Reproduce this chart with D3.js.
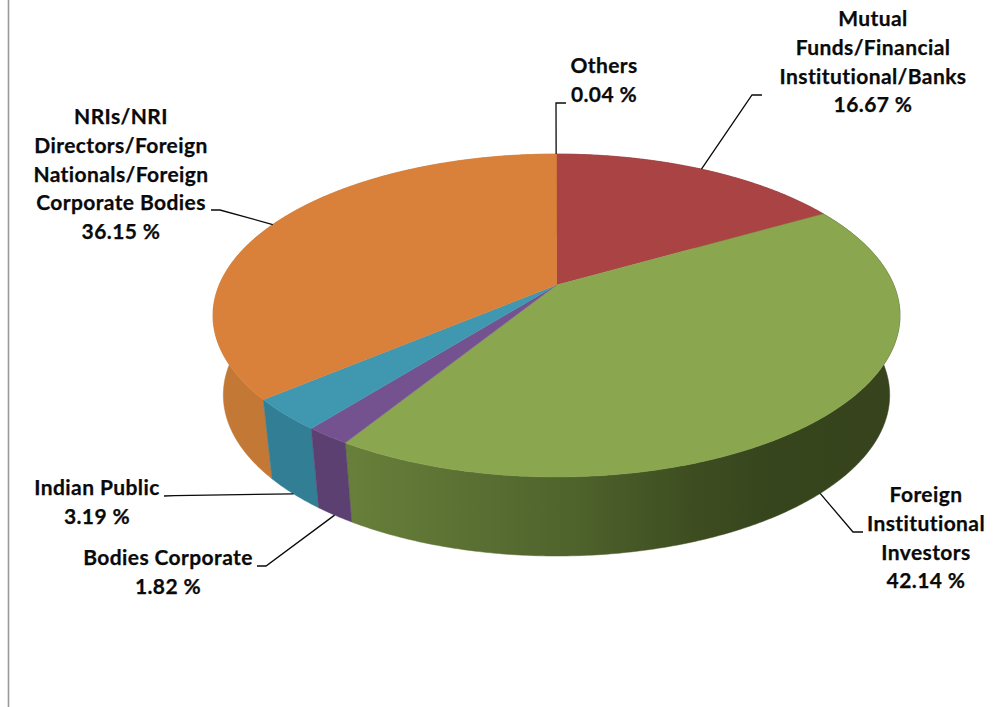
<!DOCTYPE html>
<html>
<head>
<meta charset="utf-8">
<script src="https://cdnjs.cloudflare.com/ajax/libs/d3/7.8.5/d3.min.js"></script>
<style>
html,body{margin:0;padding:0;background:#fff}
svg{display:block}
text{font-family:Lato,"Open Sans",sans-serif;font-weight:700;fill:#0a0a0a;stroke:#0a0a0a;stroke-width:0.25px;letter-spacing:0.4px}
</style>
</head>
<body>
<svg id="chart" width="1008" height="707"></svg>
<script>
const categories = ["Mutual Funds/Financial Institutional/Banks","Foreign Institutional Investors","Bodies Corporate","Indian Public","NRIs/NRI Directors/Foreign Nationals/Foreign Corporate Bodies","Others"];
const values = [16.67,42.14,1.82,3.19,36.15,0.04];
const valueLabels = ["16.67 %","42.14 %","1.82 %","3.19 %","36.15 %","0.04 %"];
const labelLines = [
  ["Mutual","Funds/Financial","Institutional/Banks"],
  ["Foreign","Institutional","Investors"],
  ["Bodies Corporate"],
  ["Indian Public"],
  ["NRIs/NRI","Directors/Foreign","Nationals/Foreign","Corporate Bodies"],
  ["Others"]
];
const topColors = ["#A94344","#8AA64E","#74528F","#4097B0","#D9813B","#D9813B"];
const sideColors = ["#7E3132","url(#greenSide)","#5C4072","#327F95","#C47835","#C47835"];

// layout of the labels (centre x, first baseline y) and leader lines
const labelPos = [[873,26],[926,502],[168,565],[97,495],[121,124],[604,73]];
const leaderRest = [
  [[752,95],[762,95]],
  [[853,532],[863,532]],
  [[266,566],[257,566]],
  [[175,495.7],[164,496]],
  [[220,210],[211,210]],
  [[556,103],[566,103]]
];
const lineGap = 28.8;

const svg = d3.select("#chart");
const cx = 556.5, cy = 285, k = 0.189, a = 155.7, R = 337.3;
const topY = 315.5, lowY = 395, scaleX = 0.97, scaleY = 0.997;

// perspective projection of the pie disc
function project(angle){
  const x = Math.sin(angle), y = -Math.cos(angle), w = 1 - k*y;
  return [cx + R*x/w, cy + a*y/w];
}
function lower(p){ return [cx + (p[0]-cx)*scaleX, lowY + (p[1]-topY)*scaleY]; }
const centre = [cx, cy];

const defs = svg.append("defs");
const grad = defs.append("linearGradient").attr("id","greenSide")
  .attr("gradientUnits","userSpaceOnUse").attr("x1",345).attr("x2",900).attr("y1",0).attr("y2",0);
[[0,"#68803A"],[0.2,"#5C7234"],[0.42,"#4E622B"],[0.62,"#3E4E21"],[0.76,"#37451D"],[1,"#36431C"]]
  .forEach(s=>grad.append("stop").attr("offset",s[0]).attr("stop-color",s[1]));

svg.append("line").attr("x1",8.5).attr("x2",8.5).attr("y1",0).attr("y2",707)
  .attr("stroke","#9a9a9a").attr("stroke-width",1.6);

const arcs = d3.pie().sort(null).startAngle(0).endAngle(2*Math.PI)(values);
const samples = d => {
  const n = Math.max(2, Math.ceil((d.endAngle-d.startAngle)/0.01));
  return d3.range(n+1).map(i => d.startAngle + (d.endAngle-d.startAngle)*i/n);
};
const path = d3.line();

// side walls, back to front
const sideOrder = [0,1,4,5,3,2];
svg.append("g").selectAll("path").data(sideOrder.map(i=>arcs[i])).join("path")
  .attr("d", d => {
    const t = samples(d).map(project);
    return path(t.concat(t.map(lower).reverse())) + "Z";
  })
  .attr("fill", d => sideColors[d.index])
  .attr("stroke", d => sideColors[d.index]).attr("stroke-width",0.5);

// top faces
svg.append("g").selectAll("path").data(arcs).join("path")
  .attr("d", d => path([centre].concat(samples(d).map(project))) + "Z")
  .attr("fill", d => topColors[d.index])
  .attr("stroke", d => topColors[d.index]).attr("stroke-width",0.4);

// leader lines start on the rim at each slice's mid angle
const frontSlices = new Set([1,2,3]);
svg.append("g").selectAll("path").data(arcs).join("path")
  .attr("d", d => {
    const m = project((d.startAngle+d.endAngle)/2);
    const s = frontSlices.has(d.index) ? lower(m) : m;
    return path([s].concat(leaderRest[d.index]));
  })
  .attr("fill","none").attr("stroke","#0a0a0a").attr("stroke-width",1.3);

// labels
const lab = svg.append("g").selectAll("text").data(categories).join("text")
  .attr("text-anchor","middle").attr("font-size",21);
lab.each(function(c,i){
  const lines = labelLines[i].concat(valueLabels[i]);
  d3.select(this).selectAll("tspan").data(lines).join("tspan")
    .attr("x",labelPos[i][0])
    .attr("y",(l,j)=>labelPos[i][1]+j*lineGap)
    .text(l=>l);
});
</script>
</body>
</html>
